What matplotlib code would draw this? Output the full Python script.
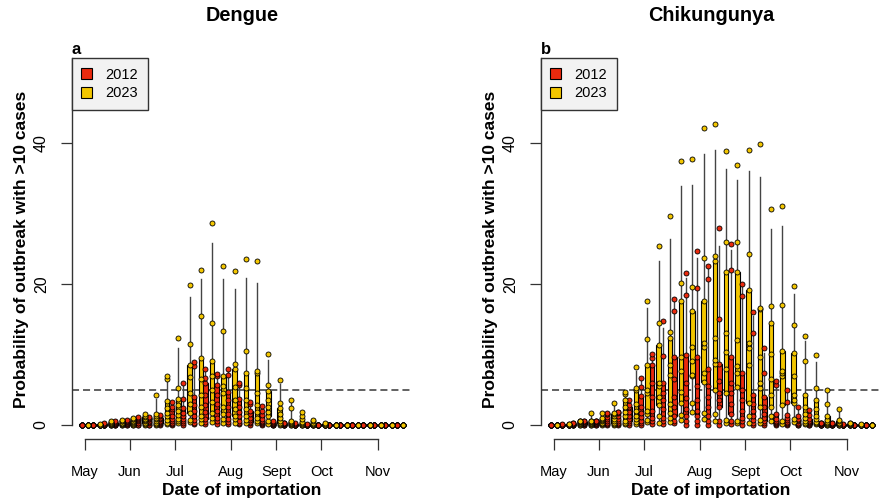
import numpy as np
import matplotlib
matplotlib.use("Agg")
import matplotlib.pyplot as plt
from matplotlib.patches import Patch

plt.rcParams['font.family'] = ['Liberation Sans', 'DejaVu Sans']

months = ["May", "Jun", "Jul", "Aug", "Sept", "Oct", "Nov"]
month_weeks = [0, 4, 8, 13, 17, 21, 26]
years = ["2012", "2023"]
colours = ["#EA2A0E", "#F3C600"]
threshold = 5
Z = [0, 0, 0, 0, 0, 0, 0, 0, 0]

# 9 values per weekly box, week 0 = start of May
dengue_2012 = [
    Z, [0, 0, 0, 0, 0, 0, 0, 0, 0.05], [0, 0, 0, 0, 0, 0, 0.1, 0.1, 0.2],
    [0, 0, 0, 0.1, 0.1, 0.2, 0.3, 0.4, 0.5], [0, 0, 0.1, 0.2, 0.3, 0.4, 0.5, 0.6, 0.7],
    [0, 0, 0.2, 0.3, 0.5, 0.7, 0.9, 1.0, 1.1], [0, 0, 0.2, 0.4, 0.6, 0.8, 0.9, 1.0, 1.1],
    [0, 0.1, 0.2, 0.4, 0.6, 0.8, 1.0, 1.2, 1.4], [0, 0.1, 0.3, 0.6, 0.9, 1.3, 2.2, 2.6, 3.3],
    [0, 0.2, 0.5, 0.9, 1.3, 1.7, 2.4, 3.7, 6.0], [0.1, 0.3, 0.7, 1.3, 2.0, 2.8, 4.0, 8.4, 8.9],
    [0.1, 0.4, 0.9, 1.8, 2.8, 4.2, 6.0, 6.6, 8.0], [0.1, 0.5, 1.0, 2.0, 3.0, 4.3, 5.7, 6.9, 7.2],
    [0.1, 0.4, 0.8, 1.6, 2.5, 3.5, 4.7, 7.1, 7.9], [0.1, 0.3, 0.6, 1.2, 1.8, 2.6, 3.7, 5.7, 5.9],
    [0, 0.2, 0.4, 0.7, 1.0, 1.5, 2.0, 2.9, 3.2], [0, 0.1, 0.2, 0.4, 0.6, 0.9, 1.4, 2.0, 2.7],
    [0, 0, 0, 0.1, 0.1, 0.2, 0.3, 0.4, 0.5], [0, 0, 0, 0, 0.1, 0.1, 0.2, 0.2, 0.3],
    [0, 0, 0, 0, 0, 0, 0, 0.1, 0.2], [0, 0, 0, 0, 0, 0, 0, 0.05, 0.1],
    Z, Z, Z, Z, Z, Z, Z, Z,
]
dengue_2023 = [
    Z, [0, 0, 0, 0, 0, 0, 0, 0.05, 0.1], [0, 0, 0, 0.1, 0.1, 0.2, 0.3, 0.4, 0.5],
    [0, 0, 0.1, 0.1, 0.2, 0.3, 0.5, 0.6, 0.7], [0, 0, 0.1, 0.2, 0.4, 0.6, 0.8, 0.9, 1.0],
    [0, 0.1, 0.3, 0.5, 0.7, 0.9, 1.1, 1.3, 1.5], [0, 0.1, 0.3, 0.5, 0.8, 1.0, 1.2, 1.5, 4.3],
    [0.1, 0.3, 0.7, 1.2, 1.7, 2.4, 3.4, 6.5, 6.9], [0.2, 0.5, 0.9, 1.4, 2.0, 2.8, 3.7, 5.2, 12.4],
    [0.4, 0.7, 1.7, 3.0, 4.5, 6.8, 8.5, 11.5, 19.8], [0.3, 0.8, 1.2, 2.6, 4.2, 6.5, 9.5, 15.4, 22.0],
    [0.4, 1.0, 1.7, 3.2, 5.0, 7.0, 9.0, 14.5, 28.7], [0.3, 0.8, 1.5, 2.6, 4.5, 5.5, 7.0, 13.3, 22.6],
    [0.3, 0.8, 1.3, 2.3, 3.5, 5.4, 8.0, 8.7, 21.9], [0.3, 0.7, 1.3, 2.2, 3.5, 5.2, 7.4, 10.5, 23.5],
    [0.2, 0.6, 1.0, 1.8, 2.8, 4.5, 7.4, 7.6, 23.3], [0.1, 0.5, 1.2, 1.8, 2.6, 3.6, 4.8, 5.7, 10.1],
    [0, 0.1, 0.3, 0.6, 1.0, 1.6, 2.4, 3.1, 6.4], [0, 0, 0.1, 0.2, 0.3, 0.4, 0.5, 2.4, 3.5],
    [0, 0, 0, 0.1, 0.2, 0.4, 0.9, 1.3, 1.9], [0, 0, 0, 0, 0.1, 0.1, 0.3, 0.5, 0.7],
    [0, 0, 0, 0, 0, 0, 0, 0.1, 0.2], Z, Z, Z, Z, Z, Z, Z,
]
chik_2012 = [
    Z, [0, 0, 0, 0, 0, 0, 0, 0, 0.1], [0, 0, 0, 0, 0.1, 0.1, 0.1, 0.2, 0.3],
    [0, 0, 0.1, 0.2, 0.2, 0.3, 0.4, 0.5, 0.5], [0, 0, 0.1, 0.2, 0.3, 0.4, 0.5, 0.5, 0.6],
    [0, 0.1, 0.2, 0.5, 0.8, 1.1, 1.5, 1.6, 1.7], [0, 0.1, 0.3, 0.6, 0.9, 1.3, 1.7, 1.8, 1.9],
    [0, 0.2, 0.5, 0.9, 1.3, 1.9, 2.6, 2.8, 3.6], [0, 0.3, 0.6, 1.1, 1.7, 2.6, 4.1, 5.4, 6.7],
    [0.1, 0.5, 1.0, 2.0, 4.0, 6.0, 8.5, 9.5, 10.0], [0.1, 0.5, 1.0, 2.2, 3.5, 4.5, 5.9, 9.8, 14.8],
    [0.2, 0.6, 1.2, 2.5, 4.0, 6.5, 9.6, 16.2, 17.8], [0, 0.6, 1.2, 2.2, 3.8, 6.0, 9.9, 18.5, 21.5],
    [0, 0.6, 1.2, 2.0, 3.5, 5.5, 9.7, 19.4, 24.7], [0, 0.6, 1.2, 2.5, 4.0, 5.5, 8.0, 20.7, 22.6],
    [0, 0.6, 2.6, 3.5, 4.5, 6.2, 8.7, 15.0, 28.0], [0.1, 0.6, 1.5, 3.0, 4.5, 6.0, 9.6, 22.0, 25.6],
    [0, 0.5, 1.0, 2.0, 3.5, 5.0, 7.3, 18.3, 20.0], [0, 0.3, 0.7, 1.2, 2.0, 3.0, 4.3, 13.1, 16.0],
    [0, 0.2, 0.5, 1.0, 1.6, 2.5, 4.0, 7.3, 10.9], [0, 0.1, 0.2, 0.4, 0.6, 0.9, 1.5, 5.6, 6.2],
    [0, 0.1, 0.2, 0.4, 0.7, 1.0, 1.4, 3.2, 5.0], [0, 0, 0.1, 0.3, 0.5, 0.7, 0.9, 1.2, 2.6],
    [0, 0, 0.1, 0.2, 0.4, 0.6, 0.9, 1.4, 2.1], [0, 0, 0, 0, 0, 0.1, 0.2, 0.2, 0.3],
    [0, 0, 0, 0, 0, 0.1, 0.1, 0.2, 0.3], [0, 0, 0, 0, 0, 0, 0, 0, 0.1], Z, Z,
]
chik_2023 = [
    Z, [0, 0, 0, 0, 0, 0, 0, 0.1, 0.1], [0, 0, 0.1, 0.2, 0.3, 0.4, 0.5, 0.6, 0.6],
    [0, 0.05, 0.1, 0.2, 0.3, 0.4, 0.5, 0.6, 1.75], [0, 0.1, 0.2, 0.3, 0.5, 0.7, 0.9, 1.0, 1.65],
    [0, 0.1, 0.3, 0.6, 0.9, 1.2, 1.6, 1.7, 3.1], [0.1, 0.3, 0.6, 1.2, 1.8, 2.5, 3.6, 4.4, 4.7],
    [0.1, 0.4, 0.8, 1.3, 2.0, 3.0, 5.0, 5.3, 8.2], [0.4, 0.7, 1.5, 2.0, 4.5, 5.0, 8.5, 12.2, 17.6],
    [0.2, 1.2, 2.8, 4.0, 5.5, 6.0, 11.3, 14.4, 25.4], [0.4, 1.0, 1.7, 3.0, 7.1, 8.5, 12.3, 13.2, 29.6],
    [0.7, 1.4, 3.1, 4.7, 7.6, 9.7, 17.6, 20.1, 37.4], [1.9, 3.1, 6.9, 7.1, 9.0, 11.0, 16.2, 19.6, 37.7],
    [0.8, 1.7, 6.1, 7.3, 11.1, 11.6, 17.6, 23.7, 42.1], [0.5, 1.6, 5.0, 8.7, 9.2, 12.3, 23.2, 23.9, 42.7],
    [0.3, 0.7, 4.5, 8.0, 10.4, 13.0, 21.7, 26.0, 38.8], [0.2, 0.5, 5.4, 7.3, 8.3, 12.0, 21.7, 25.9, 36.9],
    [0.2, 1.2, 3.1, 8.5, 10.9, 11.6, 19.1, 24.3, 39.0], [0.3, 0.7, 2.6, 5.2, 6.0, 9.7, 16.5, 16.6, 39.8],
    [0.5, 1.2, 2.6, 4.3, 6.5, 10.0, 14.4, 16.9, 30.6], [0.1, 0.5, 2.8, 6.9, 7.3, 7.6, 10.5, 17.0, 31.0],
    [0.4, 0.9, 3.1, 3.6, 4.3, 7.0, 10.2, 14.2, 19.7], [0.1, 0.3, 0.6, 1.0, 1.5, 2.5, 4.3, 9.1, 12.6],
    [0.1, 0.2, 0.4, 0.8, 1.3, 2.2, 3.5, 5.2, 9.9], [0, 0, 0.1, 0.2, 0.4, 0.7, 1.2, 3.0, 5.0],
    [0, 0, 0, 0.1, 0.2, 0.3, 0.5, 0.7, 2.3], [0, 0, 0, 0, 0, 0.1, 0.1, 0.2, 0.3],
    [0, 0, 0, 0, 0, 0, 0, 0, 0.1], Z,
]

W, H = 884, 503
fig = plt.figure(figsize=(W / 100, H / 100), dpi=100)
axL = fig.add_axes([72 / W, 1 - 439 / H, 339.7 / W, 380.6 / H])
axR = fig.add_axes([541 / W, 1 - 439 / H, 339.7 / W, 380.6 / H])


def draw_panel(ax, series, title, letter):
    weeks = np.arange(len(series[0]))
    for data, offset, col in zip(series, [-0.295, 0.295], colours):
        pos = weeks + offset
        stats = []
        for v in data:
            lo, q1, med, q3, hi = np.percentile(v, [2.5, 25, 50, 75, 97.5])
            stats.append(dict(med=med, q1=q1, q3=q3, whislo=lo, whishi=hi, fliers=[]))
        ax.bxp(stats, positions=pos, widths=0.4, patch_artist=True,
               showcaps=False, showfliers=False, manage_ticks=False,
               boxprops=dict(facecolor=col, edgecolor="black", linewidth=0.8),
               medianprops=dict(color="black", linewidth=1.6),
               whiskerprops=dict(color="#444444", linewidth=1.0), zorder=2)
        for p, v in zip(pos, data):
            ax.scatter(np.full(len(v), p), v, s=13, c=col, edgecolors="black",
                       linewidths=0.6, zorder=3)

    ax.axhline(threshold, color="#555555", lw=1.3, ls=(0, (3.9, 2.2)), zorder=1)
    ax.set_xlim(-1.16, 29.04)
    ax.set_ylim(-2, 52)
    for s in ["top", "right"]:
        ax.spines[s].set_visible(False)
    ax.spines["left"].set_bounds(0, 52)
    ax.spines["bottom"].set_bounds(month_weeks[0], month_weeks[-1])
    for s in ["left", "bottom"]:
        ax.spines[s].set_color("#333333")
        ax.spines[s].set_linewidth(1.0)
    ax.set_yticks([0, 20, 40])
    ax.set_xticks(month_weeks)
    ax.set_xticklabels(months)
    ax.tick_params(axis="both", length=7.7, width=0.9, color="#333333")
    ax.tick_params(axis="x", pad=11, labelsize=10.5)
    ax.tick_params(axis="y", pad=9, labelrotation=90, labelsize=11.5)
    for t in ax.get_yticklabels():
        t.set_va("center")

    leg = ax.legend(handles=[Patch(facecolor=c, edgecolor="black", lw=0.8, label=y)
                             for c, y in zip(colours, years)],
                    loc="upper left", bbox_to_anchor=(0, 1), borderaxespad=0,
                    fancybox=False, facecolor="#f2f2f2", edgecolor="#333333",
                    framealpha=1, fontsize=10.5, handlelength=0.75, handleheight=0.75,
                    handletextpad=0.9, borderpad=0.65, labelspacing=0.3)
    leg.get_frame().set_linewidth(1.0)

    ax.text(0.0, 1 + 4 / 380.6, letter, transform=ax.transAxes, fontsize=12,
            fontweight="bold", ha="left", va="baseline")

    bb = ax.get_position()
    cx = (bb.x0 + bb.x1) / 2
    fig.text(cx, 1 - 21 / H, title, ha="center", va="baseline", fontsize=14.3,
             fontweight="bold")
    fig.text(cx, 1 - 491 / H, "Date of importation", ha="center", va="center",
             fontsize=12.5, fontweight="bold")
    fig.text(bb.x0 - 50 / W, 1 - 249 / H, "Probability of outbreak with >10 cases",
             ha="center", va="center", rotation=90, fontsize=12.5, fontweight="bold")


draw_panel(axL, [dengue_2012, dengue_2023], "Dengue", "a")
draw_panel(axR, [chik_2012, chik_2023], "Chikungunya", "b")

fig.savefig("out.png", dpi=100)
